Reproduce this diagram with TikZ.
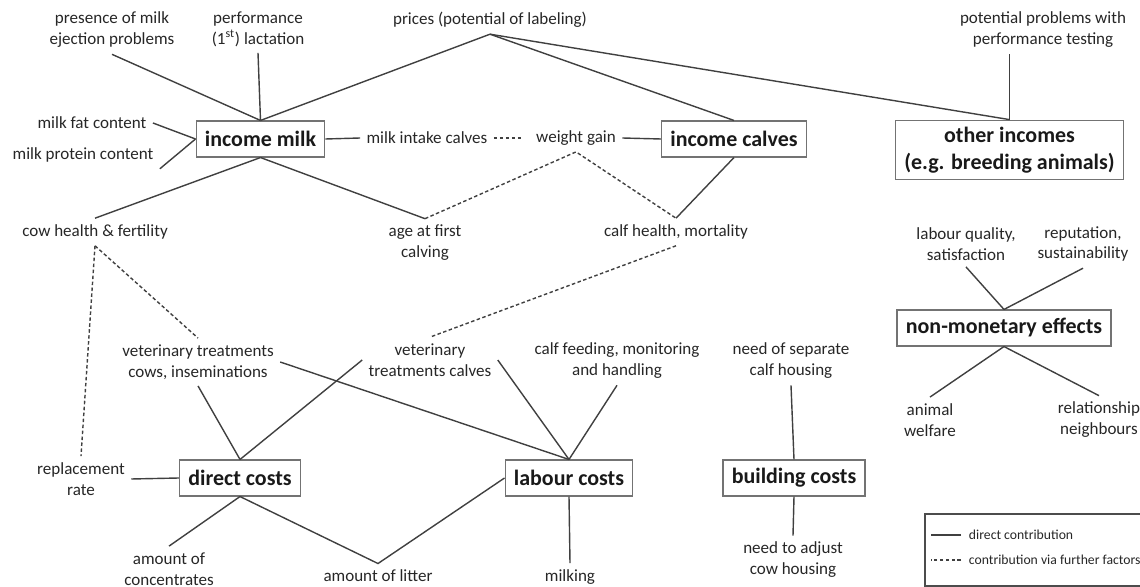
\documentclass[tikz,border=0pt]{standalone}
\usepackage{fontspec}
\setmainfont{Carlito}
\begin{document}
\begin{tikzpicture}[x=0.02cm,y=-0.02cm,
  lbl/.style={align=center,font=\fontsize{9.7}{11.9}\selectfont,text=black!85,inner sep=3.5pt},
  box/.style={draw=black!55,line width=0.7pt,align=center,font=\fontsize{12.5}{15}\selectfont\bfseries,text=black!90,inner xsep=5pt,inner ysep=4pt,minimum height=20.4pt},
  link/.style={draw=black!75,line width=0.8pt},
  via/.style={link,dash pattern=on 2pt off 1.4pt},
  legend/.style={font=\fontsize{7.8}{9}\selectfont,text=black!85,inner sep=1.5pt}]
\useasboundingbox (0,0) rectangle (1140,587);

% Boxes
\node[box] (milk) at (260.5,139) {income milk};
\node[box] (calves) at (734,139) {income calves};
\node[box] (other) at (1009.5,150) {other incomes\\(e.g. breeding animals)};
\node[box] (nonmon) at (1004,328) {non-monetary effects};
\node[box] (direct) at (240,478) {direct costs};
\node[box] (labour) at (569,478) {labour costs};
\node[box] (building) at (794,478) {building costs};

% Factors
\node[lbl] (presence) at (112,30) {presence of milk\\ejection problems};
\node[lbl] (perf) at (258,29) {performance\\(1\textsuperscript{st}) lactation};
\node[lbl] (prices) at (490,20) {prices (potential of labeling)};
\node[lbl] (ptest) at (1043,30) {potential problems with\\performance testing};
\node[lbl] (fat) at (92,123) {milk fat content};
\node[lbl] (protein) at (83,155) {milk protein content};
\node[lbl] (intake) at (427,138) {milk intake calves};
\node[lbl] (gain) at (576,138) {weight gain};
\node[lbl] (cowh) at (95,232) {cow health \& fertility};
\node[lbl] (age) at (425,243) {age at first\\calving};
\node[lbl] (calfh) at (676,232) {calf health, mortality};
\node[lbl] (lq) at (966,244) {labour quality,\\satisfaction};
\node[lbl] (rep) at (1083,244) {reputation,\\sustainability};
\node[lbl] (animal) at (930,420) {animal\\welfare};
\node[lbl] (rel) at (1099,420) {relationship\\neighbours};
\node[lbl] (vetcows) at (198,362) {veterinary treatments\\cows, inseminations};
\node[lbl] (vetcalves) at (430,360) {veterinary\\treatments calves};
\node[lbl] (feed) at (617,361) {calf feeding, monitoring\\and handling};
\node[lbl] (sep) at (791,361) {need of separate\\calf housing};
\node[lbl] (replace) at (81,479) {replacement\\rate};
\node[lbl] (conc) at (169,569) {amount of\\concentrates};
\node[lbl] (litter) at (378,576) {amount of litter};
\node[lbl] (milking) at (570,577) {milking};
\node[lbl] (adjust) at (793,560) {need to adjust\\cow housing};

% Incomes
\draw[link] (presence.south) -- (milk.north);
\draw[link] (perf.south) -- (milk.north);
\draw[link] (prices.south) -- (milk.north);
\draw[link] (prices.south) -- (calves.north);
\draw[link] (prices.south) -- (other.north);
\draw[link] (other.north) -- (other.north |- ptest.south);
\draw[link] (fat.east) -- (milk.west);
\draw[link] (protein.south east) -- (milk.west);
\draw[link] (milk.east) -- (intake.west);
\draw[via,shorten >=5pt] (intake.east) -- (gain.west);
\draw[link] (gain.east) -- (calves.west);
\draw[link] (milk.south) -- (cowh.north);
\draw[link] (milk.south) -- (age.north);
\draw[via] (age.north) -- (gain.south) -- (calfh.north);
\draw[link] (calves.south) -- (calfh.north);

% Costs
\draw[via] (cowh.south) -- (replace.north);
\draw[via] (cowh.south) -- (vetcows.north);
\draw[via] (calfh.south) -- (vetcalves.north);
\draw[link] (replace.east) -- (direct.west);
\draw[link] (vetcows.south) -- (direct.north);
\draw[link] (vetcalves.west) -- (direct.north);
\draw[link] (vetcows.east) -- (labour.north);
\draw[link] (vetcalves.east) -- (labour.north);
\draw[link] (feed.south) -- (labour.north);
\draw[link] (direct.south) -- (conc.north);
\draw[link] (direct.south) -- (litter.north) -- (labour.west);
\draw[link] (labour.south) -- (milking.north);
\draw[link] (sep.south) -- (building.north);
\draw[link] (building.south) -- (adjust.north);

% Non-monetary
\draw[link] (lq.south) -- (nonmon.north);
\draw[link] (rep.south) -- (nonmon.north);
\draw[link] (nonmon.south) -- (animal.north);
\draw[link] (nonmon.south) -- (rel.north);

% Legend
\draw[draw=black!70,line width=0.7pt] (925,514) rectangle (1160,586);
\node[legend,anchor=west] (legdirect) at (966,535) {direct contribution};
\node[legend,anchor=west] (legvia) at (966,560) {contribution via further factors};
\draw[link] (legdirect.west) ++(-5,0) -- ++(-30,0);
\draw[via] (legvia.west) ++(-5,0) -- ++(-30,0);
\end{tikzpicture}
\end{document}
